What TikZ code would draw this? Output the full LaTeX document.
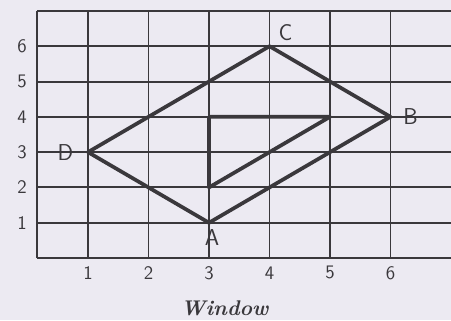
\documentclass[tikz,border=0pt]{standalone}
\usepackage{xcolor}
\usepackage{tikz}
\usetikzlibrary{positioning}

\definecolor{paper}{RGB}{236,234,242}
\definecolor{pencil}{RGB}{58,56,60}

\begin{document}
\begin{tikzpicture}[
    x=1.6cm, y=0.9336cm,
    gridline/.style={draw=pencil, line width=1.5pt},
    edge/.style={draw=pencil, line width=2.8pt, line join=round, line cap=round},
    ptlabel/.style={text=pencil, font=\sffamily\LARGE, inner sep=1pt},
    ticklabel/.style={text=pencil, font=\sffamily\Large, inner sep=1pt}
]
    % paper
    \fill[paper] (-0.4545,-1.756) rectangle (7.0,7.31);
    \useasboundingbox (-0.4545,-1.756) rectangle (7.0,7.31);

    % grid
    \foreach \y in {0,...,7}
        \draw[gridline] (0.16,\y) -- (7.0,\y);
    \foreach \x in {1,...,6}
        \draw[gridline] (\x,0) -- (\x,7);
    \draw[gridline] (0.16,0) -- (0.16,7);

    % tick labels
    \foreach \y in {1,...,6}
        \node[ticklabel] (ty\y) at (-0.09,\y) {\y};
    \foreach \x in {1,...,6}
        \node[ticklabel] (tx\x) at (\x,-0.42) {\x};

    % window corners
    \coordinate (A) at (3,1);
    \coordinate (B) at (6,4);
    \coordinate (C) at (4,6);
    \coordinate (D) at (1,3);
    \coordinate (p) at (3,4);
    \coordinate (q) at (5,4);
    \coordinate (r) at (3,2);

    \draw[edge] (A) -- (B) -- (C) -- (D) -- cycle;
    \draw[edge] (r) -- (p) -- (q) -- cycle;

    \node[ptlabel, above right=0.1cm and 0.2cm of C] (lc) {C};
    \node[ptlabel, right=0.3cm of B] (lb) {B};
    \node[ptlabel, left=0.35cm of D] (ld) {D};
    \node[ptlabel, below right=0.15cm and -0.15cm of A] (la) {A};

    \node[text=pencil, font=\fontsize{16}{18}\selectfont\bfseries\itshape] (cap) at (3.26,-1.42) {Window};
\end{tikzpicture}
\end{document}
